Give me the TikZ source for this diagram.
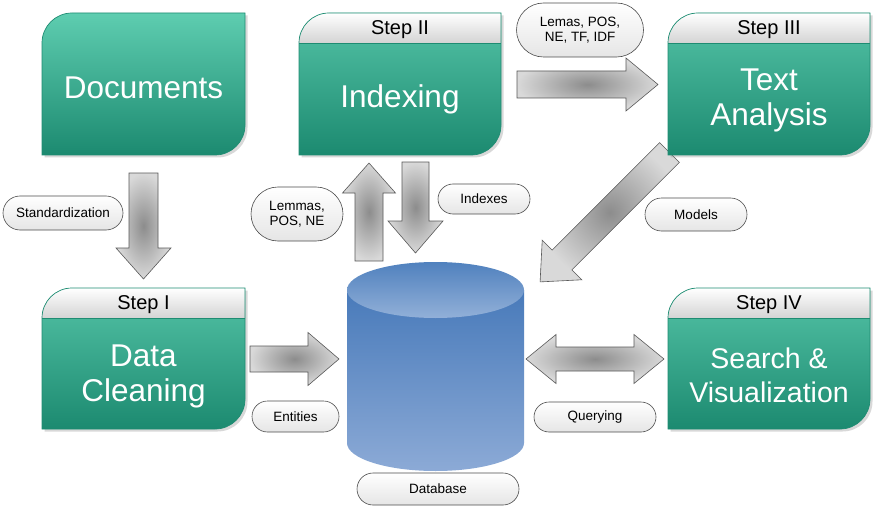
\documentclass[tikz,border=0pt]{standalone}
\usepackage{fontspec}
\setmainfont{Liberation Sans}
\usetikzlibrary{shapes.misc,shadows}
\definecolor{tealL}{RGB}{94,205,176}
\definecolor{tealD}{RGB}{28,138,112}
\definecolor{tealB}{RGB}{30,140,114}
\definecolor{hdrB}{RGB}{212,212,212}
\definecolor{dbA}{RGB}{72,122,186}
\definecolor{dbB}{RGB}{140,170,214}
\definecolor{dbC}{RGB}{80,129,190}
\definecolor{dbD}{RGB}{146,176,216}
\newcommand{\boxpath}[4]{(#1,#4) -- (#1,#2+30) .. controls (#1,#2+13.4) and (#1+13.4,#2) .. (#1+30,#2) -- (#3,#2) -- (#3,#4-30) .. controls (#3,#4-13.4) and (#3-13.4,#4) .. (#3-30,#4) -- cycle}
\newcommand{\plainbox}[4]{%
  \shade[drop shadow={shadow xshift=2.5pt,shadow yshift=-2.5pt,opacity=0.3}, top color=tealL, bottom color=tealD] \boxpath{#1}{#2}{#3}{#4};
  \draw[tealB, line width=0.7pt] \boxpath{#1}{#2}{#3}{#4};}
\newcommand{\hdrbox}[4]{%
  \shade[drop shadow={shadow xshift=2.5pt,shadow yshift=-2.5pt,opacity=0.3}, top color=tealL!85!tealD, bottom color=tealD] \boxpath{#1}{#2}{#3}{#4};
  \begin{scope}\clip \boxpath{#1}{#2}{#3}{#4};
  \shade[top color=white, bottom color=hdrB] (#1,#2) rectangle (#3,#2+30);
  \end{scope}
  \draw[tealB, line width=0.7pt] (#1,#2+30) -- (#3,#2+30);
  \draw[tealB, line width=0.7pt] \boxpath{#1}{#2}{#3}{#4};}
\newcommand{\barrow}[7]{%
  \begin{scope}[shift={(#1,#2)}, rotate=#3]
  \path[blockarrow] (0,-#5) -- (#4-#7,-#5) -- (#4-#7,-#6) -- (#4,0) -- (#4-#7,#6) -- (#4-#7,#5) -- (0,#5) -- cycle;
  \end{scope}}
\tikzset{
  blockarrow/.style={draw=black!65, line width=0.6pt, inner color=black!45, outer color=black!15},
  pill/.style={rounded rectangle, draw=black!70, line width=0.6pt, top color=white, bottom color=black!10, font=\fontsize{13.5}{15.5}\selectfont, inner sep=0pt, align=center},
  boxtext/.style={text=white, font=\fontsize{31.5}{35.5}\selectfont, align=center, inner sep=0pt},
  steptext/.style={text=black, font=\fontsize{20}{22}\selectfont, inner sep=0pt}
}
\begin{document}
\begin{tikzpicture}[x=1pt,y=-1pt]
\useasboundingbox (0,0) rectangle (878,508);
\fill[white] (0,0) rectangle (878,508);
% block arrows (behind boxes)
\barrow{143.5}{173}{-90}{106}{14.5}{27.5}{31}
\barrow{517}{84.5}{0}{141}{13.5}{26.5}{32}
\barrow{369}{261}{90}{98}{14}{26.5}{30}
\barrow{415.5}{162}{-90}{91}{13.5}{27.5}{32}
\barrow{669.5}{152.5}{225}{183}{14}{28}{31}
\barrow{250}{359}{0}{89}{13}{26.5}{31}
\path[blockarrow] (526,359) -- (556,334.5) -- (556,347) -- (634,347) -- (634,334.5) -- (664,359) -- (634,383.5) -- (634,371) -- (556,371) -- (556,383.5) -- cycle;
% boxes
\plainbox{42}{13}{245}{155}
\hdrbox{299}{13}{501}{155}
\hdrbox{668}{13}{870}{155}
\hdrbox{42}{288}{245}{429}
\hdrbox{668}{288}{870}{429}
\node[boxtext] (docs) at (143.5,88) {Documents};
\node[steptext] (s2) at (400,30) {Step II};
\node[boxtext] (idx) at (400,99) {Indexing};
\node[steptext] (s3) at (769,30) {Step III};
\node[boxtext] (ta) at (769,100.5) {Text\\Analysis};
\node[steptext] (s1) at (143.5,305) {Step I};
\node[boxtext] (dc) at (143.5,376.5) {Data\\Cleaning};
\node[steptext] (s4) at (769,305) {Step IV};
\node[boxtext, font=\fontsize{28.5}{34}\selectfont] (sv) at (769,375) {Search \&\\Visualization};
% database
\shade[top color=dbA, bottom color=dbB] (347,290) -- (524,290) -- (524,443) .. controls (524,458.46) and (484.35,471) .. (435.5,471) .. controls (386.65,471) and (347,458.46) .. (347,443) -- cycle;
\shade[top color=dbC, bottom color=dbD] (435.5,290) ellipse [x radius=88.5, y radius=28];
\coordinate (db) at (435.5,380);
% labels
\node[pill, minimum width=120pt, minimum height=34pt] (std) at (63,213) {Standardization};
\node[pill, minimum width=92pt, minimum height=54pt] (lem) at (297,214) {Lemmas,\\POS, NE};
\node[pill, minimum width=92pt, minimum height=30pt] (ixs) at (484,199) {Indexes};
\node[pill, minimum width=127pt, minimum height=54pt] (lem2) at (580,30) {Lemas, POS,\\NE, TF, IDF};
\node[pill, minimum width=102pt, minimum height=33pt] (mod) at (696,214.5) {Models};
\node[pill, minimum width=87pt, minimum height=31pt] (ent) at (295.5,416.5) {Entities};
\node[pill, minimum width=122pt, minimum height=30pt] (qry) at (595,417) {Querying};
\node[pill, minimum width=162pt, minimum height=32pt] (dbl) at (438,489) {Database};
\end{tikzpicture}
\end{document}
